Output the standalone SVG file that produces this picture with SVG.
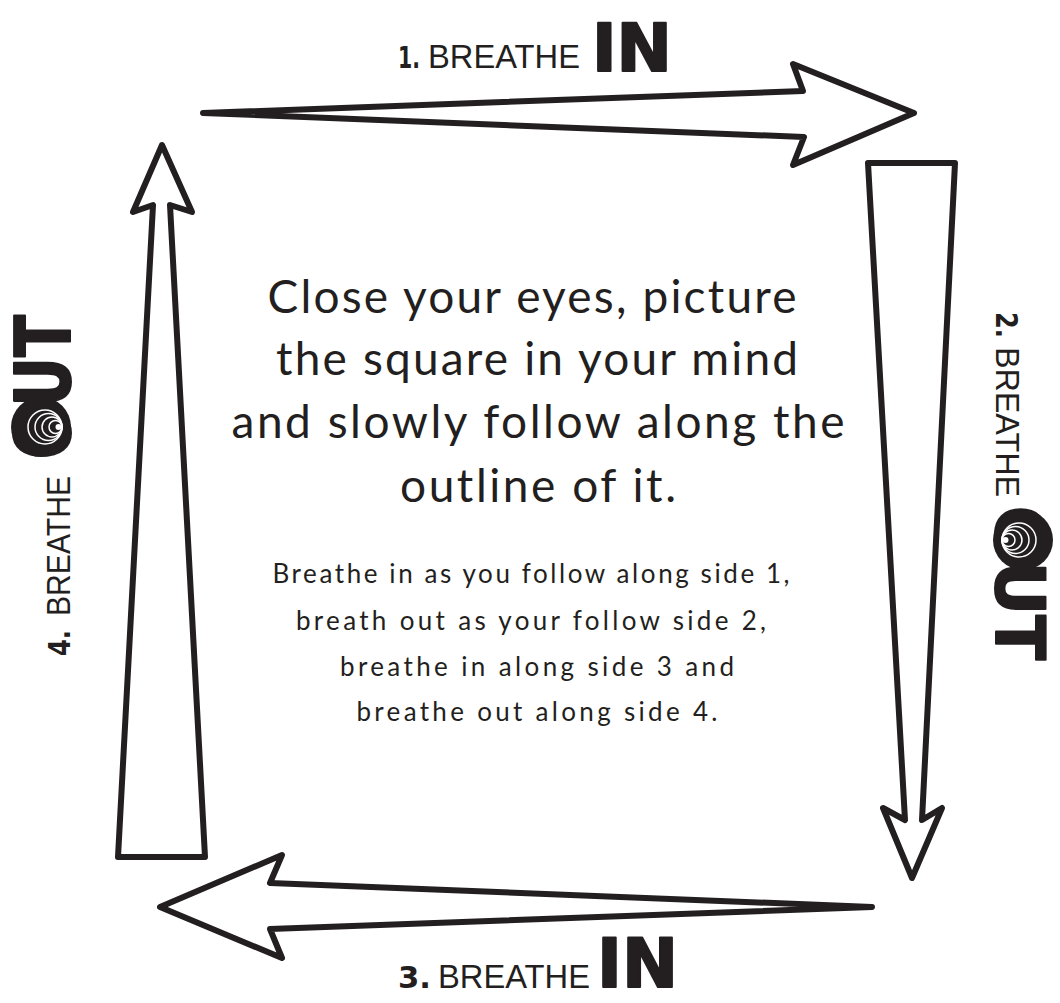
<svg xmlns="http://www.w3.org/2000/svg" width="1060" height="1003" viewBox="0 0 1060 1003">
<style>
.arr{fill:#ffffff;stroke:#231f20;stroke-width:6;stroke-linejoin:round}
.main{font-family:Lato,"Liberation Sans",sans-serif;font-size:46px;fill:#231f20;text-anchor:middle}
.small{font-family:Lato,"Liberation Sans",sans-serif;font-size:26px;fill:#231f20;text-anchor:middle}
.num{font-family:"DejaVu Sans","Liberation Sans",sans-serif;font-weight:bold;font-size:30px;fill:#231f20}
.thin{font-family:"Liberation Sans",Arial,sans-serif;font-size:34px;fill:#231f20}
.big{font-family:"DejaVu Sans","Liberation Sans",sans-serif;font-weight:900;fill:#231f20;stroke:#231f20;stroke-width:2;stroke-linejoin:round}
</style>
<defs>
<g id="spiral">
<circle cx="0" cy="0" r="30" fill="#231f20"/>
<g fill="none" stroke="#ffffff" stroke-width="1.5">
<circle cx="0" cy="4" r="17"/>
<circle cx="0" cy="7.5" r="13.5"/>
<circle cx="0" cy="11" r="10"/>
<circle cx="0" cy="14.5" r="6.5"/>
</g>
<circle cx="0" cy="17.5" r="3" fill="#ffffff"/>
</g>
</defs>
<rect width="1060" height="1003" fill="#ffffff"/>
<g id="connectors">
<polygon id="arrow1" class="arr" points="203,113 803,91 793,64 914,113 793,165 804,137"/>
<polygon id="arrow2" class="arr" points="868,163 955,163 922,820 942,808 912,878 883,808 905,820"/>
<polygon id="arrow3" class="arr" points="872,907 270,929 282,958 160,907 282,855 270,883"/>
<polygon id="arrow4" class="arr" points="118,857 205,857 170,205 192,212 162,145 133,212 153,205"/>
</g>
<g id="label1">
<text class="num" x="398" y="68" textLength="22" lengthAdjust="spacingAndGlyphs">1.</text>
<text class="thin" x="428" y="68" textLength="152" lengthAdjust="spacingAndGlyphs">BREATHE</text>
<text class="big" x="592" y="71" font-size="66" textLength="80" lengthAdjust="spacingAndGlyphs">IN</text>
</g>
<g id="label3">
<text class="num" x="398" y="988" textLength="33" lengthAdjust="spacingAndGlyphs">3.</text>
<text class="thin" x="438" y="988" textLength="152" lengthAdjust="spacingAndGlyphs">BREATHE</text>
<text class="big" x="597" y="987" font-size="68" textLength="81" lengthAdjust="spacingAndGlyphs">IN</text>
</g>
<g id="label4" transform="translate(70,658) rotate(-90)">
<text class="num" x="2" y="0" textLength="26" lengthAdjust="spacingAndGlyphs">4.</text>
<text class="thin" x="42" y="0" textLength="140" lengthAdjust="spacingAndGlyphs">BREATHE</text>
<text class="big" x="199" y="0" font-size="76" textLength="144" lengthAdjust="spacingAndGlyphs">OUT</text>
<use href="#spiral" x="231" y="-29"/>
</g>
<g id="label2" transform="translate(996,312) rotate(90)">
<text class="num" x="0" y="0" textLength="26" lengthAdjust="spacingAndGlyphs">2.</text>
<text class="thin" x="35" y="0" textLength="150" lengthAdjust="spacingAndGlyphs">BREATHE</text>
<text class="big" x="194" y="0" font-size="68" textLength="154" lengthAdjust="spacingAndGlyphs">OUT</text>
<use href="#spiral" x="228" y="-27"/>
</g>
<g id="instructions">
<text class="main" x="532" y="313" textLength="529">Close your eyes, picture</text>
<text class="main" x="537" y="375" textLength="522">the square in your mind</text>
<text class="main" x="538" y="438" textLength="613">and slowly follow along the</text>
<text class="main" x="538" y="502" textLength="276">outline of it.</text>
<text class="small" x="531" y="583" textLength="517">Breathe in as you follow along side 1,</text>
<text class="small" x="531" y="630" textLength="470">breath out as your follow side 2,</text>
<text class="small" x="537" y="676" textLength="394">breathe in along side 3 and</text>
<text class="small" x="537" y="721" textLength="361">breathe out along side 4.</text>
</g>
</svg>
